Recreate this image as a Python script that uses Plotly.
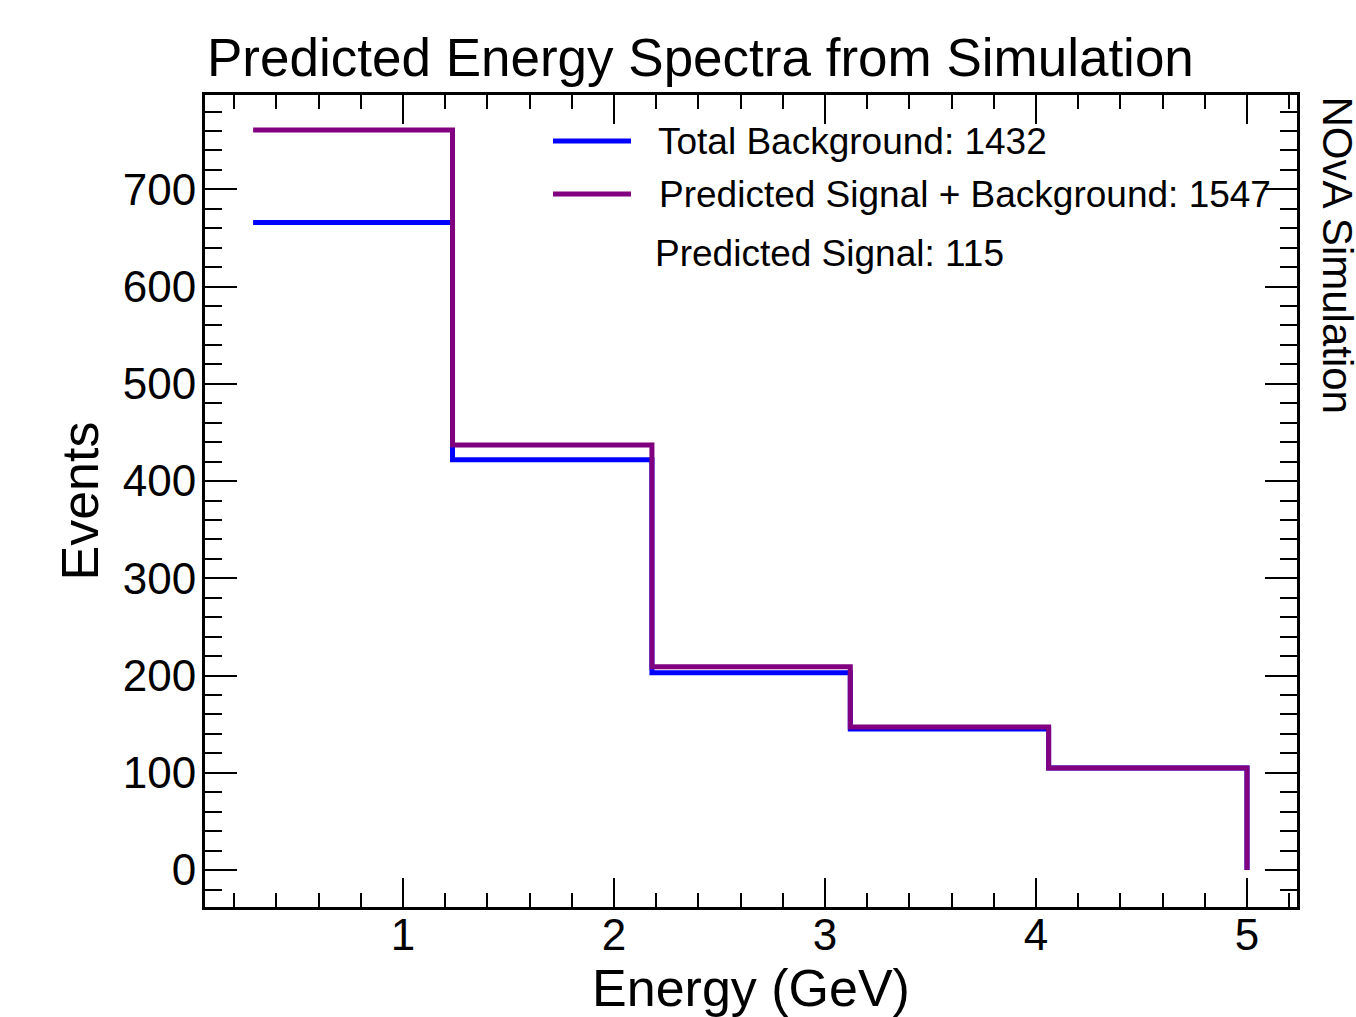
import plotly.graph_objects as go

# ---- data ----
bin_edges = [0.29, 1.235, 2.18, 3.12, 4.06, 5.0]          # Energy (GeV)
background = [666, 422, 203, 145, 105]                    # Total Background
signal_plus_background = [761, 437, 209, 147, 105]        # Predicted Signal + Background

legend_labels = ["Total Background: 1432",
                 "Predicted Signal + Background: 1547",
                 "Predicted Signal: 115"]
series_colors = ["#0000ff", "#800080"]

FONT = "Liberation Sans, Arial, Helvetica, sans-serif"

W, H = 1356, 1017
L, R, T, B = 205, 59, 95, 110
PW, PH = W - L - R, H - T - B


def step_xy(edges, vals):
    xs = list(edges) + [edges[-1]]
    ys = list(vals) + [vals[-1], 0]
    return xs, ys


fig = go.Figure()
for vals, col, name in [(background, series_colors[0], legend_labels[0]),
                        (signal_plus_background, series_colors[1], legend_labels[1])]:
    xs, ys = step_xy(bin_edges, vals)
    fig.add_trace(go.Scatter(x=xs, y=ys, mode="lines", line_shape="hv",
                             line=dict(color=col, width=5), name=name,
                             showlegend=False, hoverinfo="skip"))


def px2paper(px, py):
    return (px - L) / PW, (H - B - py) / PH


# manual legend (line samples + text)
legend_rows = [(141, series_colors[0], legend_labels[0], 656),
               (194, series_colors[1], legend_labels[1], 657),
               (254, None, legend_labels[2], 653)]
for py, col, txt, tx in legend_rows:
    if col is not None:
        x0, y0 = px2paper(553, py)
        x1, _ = px2paper(631, py)
        fig.add_shape(type="line", xref="paper", yref="paper", x0=x0, x1=x1,
                      y0=y0, y1=y0, line=dict(color=col, width=5))
    ax, ay = px2paper(tx, py)
    fig.add_annotation(xref="paper", yref="paper", x=ax, y=ay, text=txt,
                       showarrow=False, xanchor="left", yanchor="middle",
                       font=dict(family=FONT, size=37, color="black"))

# NOvA Simulation vertical label
nx, ny = px2paper(1337, 94)
fig.add_annotation(xref="paper", yref="paper", x=nx, y=ny, text="NOvA Simulation",
                   textangle=90, showarrow=False, xanchor="center", yanchor="top",
                   font=dict(family=FONT, size=42, color="black"))

axis_common = dict(showline=True, linecolor="black", linewidth=3, mirror="ticks",
                   ticks="inside", tickcolor="black", tickwidth=2,
                   showgrid=False, zeroline=False, automargin=False,
                   tickfont=dict(family=FONT, size=44, color="black"))

fig.update_xaxes(range=[0.062, 5.237], tickmode="linear", tick0=0, dtick=1,
                 ticklen=29, ticklabelstandoff=-13,
                 minor=dict(ticks="inside", dtick=0.2, tick0=0, ticklen=14,
                            tickcolor="black", tickwidth=2, showgrid=False),
                 title=dict(text="Energy (GeV)", standoff=6,
                            font=dict(family=FONT, size=52, color="black")),
                 **axis_common)
fig.update_yaxes(range=[-38, 797], tickmode="linear", tick0=0, dtick=100,
                 ticklen=32, ticklabelstandoff=-3,
                 minor=dict(ticks="inside", dtick=20, tick0=0, ticklen=17,
                            tickcolor="black", tickwidth=2, showgrid=False),
                 title=dict(text="Events", standoff=8,
                            font=dict(family=FONT, size=52, color="black")),
                 **axis_common)

fig.update_layout(
    width=W, height=H, autosize=False,
    margin=dict(l=L, r=R, t=T, b=B, pad=0),
    paper_bgcolor="white", plot_bgcolor="white",
    title=dict(text="Predicted Energy Spectra from Simulation",
               x=207 / W, xref="container", xanchor="left",
               y=1 - 57 / H, yref="container", yanchor="middle",
               font=dict(family=FONT, size=53, color="black")),
    font=dict(family=FONT, color="black"),
    showlegend=False,
)

fig.write_html("out.html")
